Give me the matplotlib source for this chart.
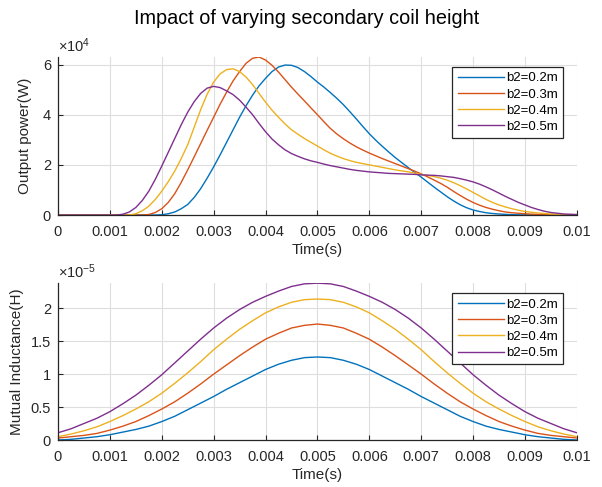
import matplotlib
matplotlib.use("Agg")
import matplotlib.pyplot as plt
import numpy as np

plt.rcParams["font.family"] = ["Liberation Sans", "DejaVu Sans"]
plt.rcParams["mathtext.fontset"] = "custom"
plt.rcParams["mathtext.rm"] = "Liberation Sans"
plt.rcParams["mathtext.it"] = "Liberation Sans"

labels = ["b2=0.2m", "b2=0.3m", "b2=0.4m", "b2=0.5m"]
colors = ["#0072BD", "#D95319", "#EDB120", "#7E2F8E"]

# output power, in units of 1e4 W, read every 0.125 ms
t_power = np.arange(81) * 0.000125
power_02 = [0, 0, 0, 0, 0, 0, 0, 0, 0, 0, 0, 0, 0, 0, 0, 0,
            0.01, 0.05, 0.12, 0.25, 0.42, 0.7, 1.05, 1.47, 1.92, 2.4, 2.9, 3.4,
            3.9, 4.36, 4.78, 5.15, 5.45, 5.72, 5.9, 5.98, 5.97, 5.88, 5.72, 5.52,
            5.3, 5.1, 4.88, 4.65, 4.4, 4.12, 3.83, 3.53, 3.24, 2.98, 2.74, 2.51,
            2.29, 2.09, 1.89, 1.7, 1.51, 1.31, 1.11, 0.92, 0.73, 0.56, 0.41, 0.29,
            0.2, 0.14, 0.09, 0.06, 0.04, 0.025, 0.015, 0.008, 0.004, 0.002,
            0, 0, 0, 0, 0, 0, 0]
power_03 = [0, 0, 0, 0, 0, 0, 0, 0, 0, 0, 0, 0, 0, 0,
            0.02, 0.1, 0.25, 0.5, 0.85, 1.3, 1.8, 2.32, 2.85, 3.38, 3.9, 4.42,
            4.9, 5.35, 5.72, 6.05, 6.25, 6.3, 6.18, 5.97, 5.7, 5.4, 5.1, 4.82,
            4.55, 4.27, 4.0, 3.72, 3.45, 3.23, 3.04, 2.87, 2.72, 2.59, 2.47, 2.36,
            2.25, 2.15, 2.05, 1.95, 1.85, 1.75, 1.64, 1.52, 1.39, 1.26, 1.11, 0.94,
            0.78, 0.63, 0.5, 0.39, 0.3, 0.23, 0.17, 0.12, 0.09, 0.07, 0.05, 0.035,
            0.025, 0.017, 0.01, 0.007, 0.005, 0.002, 0]
power_04 = [0, 0, 0, 0, 0, 0, 0, 0, 0, 0, 0, 0,
            0.05, 0.17, 0.35, 0.62, 0.95, 1.33, 1.75, 2.25, 2.8, 3.5, 4.2, 4.82,
            5.3, 5.63, 5.8, 5.83, 5.72, 5.5, 5.2, 4.85, 4.5, 4.18, 3.9, 3.63,
            3.4, 3.22, 3.05, 2.9, 2.75, 2.6, 2.46, 2.35, 2.25, 2.17, 2.1, 2.05,
            2.0, 1.95, 1.9, 1.85, 1.8, 1.76, 1.72, 1.67, 1.62, 1.58, 1.53, 1.47,
            1.39, 1.29, 1.17, 1.04, 0.9, 0.76, 0.62, 0.5, 0.4, 0.32, 0.25, 0.19,
            0.14, 0.11, 0.08, 0.06, 0.04, 0.03, 0.02, 0.015, 0.01]
power_05 = [0, 0, 0, 0, 0, 0, 0, 0, 0, 0,
            0.03, 0.12, 0.3, 0.58, 0.95, 1.42, 1.95, 2.5, 3.05, 3.6, 4.1, 4.52,
            4.85, 5.06, 5.13, 5.08, 4.95, 4.8, 4.58, 4.3, 4.0, 3.65, 3.32, 3.03,
            2.8, 2.6, 2.45, 2.34, 2.24, 2.16, 2.1, 2.03, 1.97, 1.92, 1.87, 1.82,
            1.78, 1.75, 1.72, 1.7, 1.68, 1.66, 1.65, 1.64, 1.63, 1.62, 1.6, 1.59,
            1.58, 1.56, 1.53, 1.5, 1.45, 1.39, 1.32, 1.23, 1.12, 1.0, 0.87, 0.74,
            0.62, 0.5, 0.4, 0.3, 0.22, 0.15, 0.1, 0.07, 0.04, 0.03, 0.02]

# mutual inductance, in units of 1e-5 H, read every 0.25 ms
t_m = np.arange(41) * 0.00025
m_02 = [0.0, 0.01, 0.03, 0.05, 0.08, 0.12, 0.16, 0.21, 0.28, 0.36, 0.46, 0.56,
        0.66, 0.77, 0.87, 0.97, 1.07, 1.15, 1.21, 1.25, 1.26, 1.25, 1.21, 1.15,
        1.07, 0.97, 0.87, 0.77, 0.66, 0.56, 0.46, 0.36, 0.28, 0.21, 0.16, 0.12,
        0.08, 0.05, 0.03, 0.01, 0.0]
m_03 = [0.03, 0.05, 0.07, 0.1, 0.15, 0.21, 0.28, 0.37, 0.47, 0.58, 0.71, 0.85,
        1.0, 1.14, 1.28, 1.41, 1.53, 1.62, 1.70, 1.74, 1.76, 1.74, 1.70, 1.62,
        1.53, 1.41, 1.28, 1.14, 1.0, 0.85, 0.71, 0.58, 0.47, 0.37, 0.28, 0.21,
        0.15, 0.1, 0.07, 0.05, 0.03]
m_04 = [0.05, 0.09, 0.14, 0.2, 0.28, 0.37, 0.47, 0.58, 0.71, 0.86, 1.02, 1.19,
        1.37, 1.53, 1.68, 1.81, 1.93, 2.02, 2.09, 2.13, 2.14, 2.13, 2.09, 2.02,
        1.93, 1.81, 1.68, 1.53, 1.37, 1.19, 1.02, 0.86, 0.71, 0.58, 0.47, 0.37,
        0.28, 0.2, 0.14, 0.09, 0.05]
m_05 = [0.11, 0.17, 0.25, 0.33, 0.43, 0.55, 0.68, 0.83, 0.99, 1.17, 1.35, 1.53,
        1.70, 1.85, 1.98, 2.09, 2.18, 2.26, 2.33, 2.37, 2.38, 2.37, 2.33, 2.26,
        2.18, 2.09, 1.98, 1.85, 1.70, 1.53, 1.35, 1.17, 0.99, 0.83, 0.68, 0.55,
        0.43, 0.33, 0.25, 0.17, 0.11]

x_ticks = [0, 0.001, 0.002, 0.003, 0.004, 0.005, 0.006, 0.007, 0.008, 0.009, 0.01]
x_ticklabels = ["0", "0.001", "0.002", "0.003", "0.004", "0.005", "0.006",
                "0.007", "0.008", "0.009", "0.01"]
power_ticks = [0, 2, 4, 6]
m_ticks = [0, 0.5, 1, 1.5, 2]
m_ticklabels = ["0", "0.5", "1", "1.5", "2"]

dark = "#262626"


def style_axes(ax):
    for side in ["top", "right"]:
        ax.spines[side].set_visible(False)
    for side in ["left", "bottom"]:
        ax.spines[side].set_color(dark)
        ax.spines[side].set_linewidth(0.9)
    ax.tick_params(direction="in", length=3.5, width=0.8, colors=dark,
                   labelsize=10.5)
    ax.tick_params(axis="x", pad=7)
    ax.tick_params(axis="y", pad=5)
    ax.grid(True, color="#dedede", linewidth=0.8)
    ax.set_axisbelow(True)
    ax.set_xlim(0, 0.01)
    ax.set_xticks(x_ticks)
    ax.set_xticklabels(x_ticklabels)
    ax.set_xlabel("Time(s)", fontsize=11, color=dark, labelpad=3)


def add_legend(ax):
    leg = ax.legend(loc="upper right", bbox_to_anchor=(0.973, 0.937),
                    fontsize=9.5, frameon=True, fancybox=False, borderpad=0.4,
                    labelspacing=0.3, handlelength=3.5, handletextpad=0.15,
                    borderaxespad=0, framealpha=1)
    leg.get_frame().set_edgecolor(dark)
    leg.get_frame().set_linewidth(0.9)


fig = plt.figure(figsize=(6.02, 4.87), dpi=100)

ax1 = fig.add_axes([0.0963, 0.5585, 0.862, 0.3244])
for y, c, lab in zip([power_02, power_03, power_04, power_05], colors, labels):
    ax1.plot(t_power, y, color=c, linewidth=1.0, label=lab)
style_axes(ax1)
ax1.set_ylim(0, max(max(power_02), max(power_03), max(power_04), max(power_05)))
ax1.set_yticks(power_ticks)
ax1.set_yticklabels([str(v) for v in power_ticks])
ax1.set_ylabel("Output power(W)", fontsize=11, color=dark, labelpad=8)
ax1.text(0.0, 1.03, r"$\times10^{4}$", transform=ax1.transAxes, fontsize=10.5,
         color=dark, va="baseline", ha="left")
add_legend(ax1)

ax2 = fig.add_axes([0.0963, 0.0965, 0.862, 0.322])
for y, c, lab in zip([m_02, m_03, m_04, m_05], colors, labels):
    ax2.plot(t_m, y, color=c, linewidth=1.0, label=lab)
style_axes(ax2)
ax2.set_ylim(0, max(m_05))
ax2.set_yticks(m_ticks)
ax2.set_yticklabels(m_ticklabels)
ax2.set_ylabel("Mutual Inductance(H)", fontsize=11, color=dark, labelpad=5)
ax2.text(0.0, 1.03, r"$\times10^{-5}$", transform=ax2.transAxes, fontsize=10.5,
         color=dark, va="baseline", ha="left")
add_legend(ax2)

fig.text(0.509, 0.963, "Impact of varying secondary coil height", ha="center",
         va="center", fontsize=14.3, color="black")

plt.savefig("out.png", dpi=100)
